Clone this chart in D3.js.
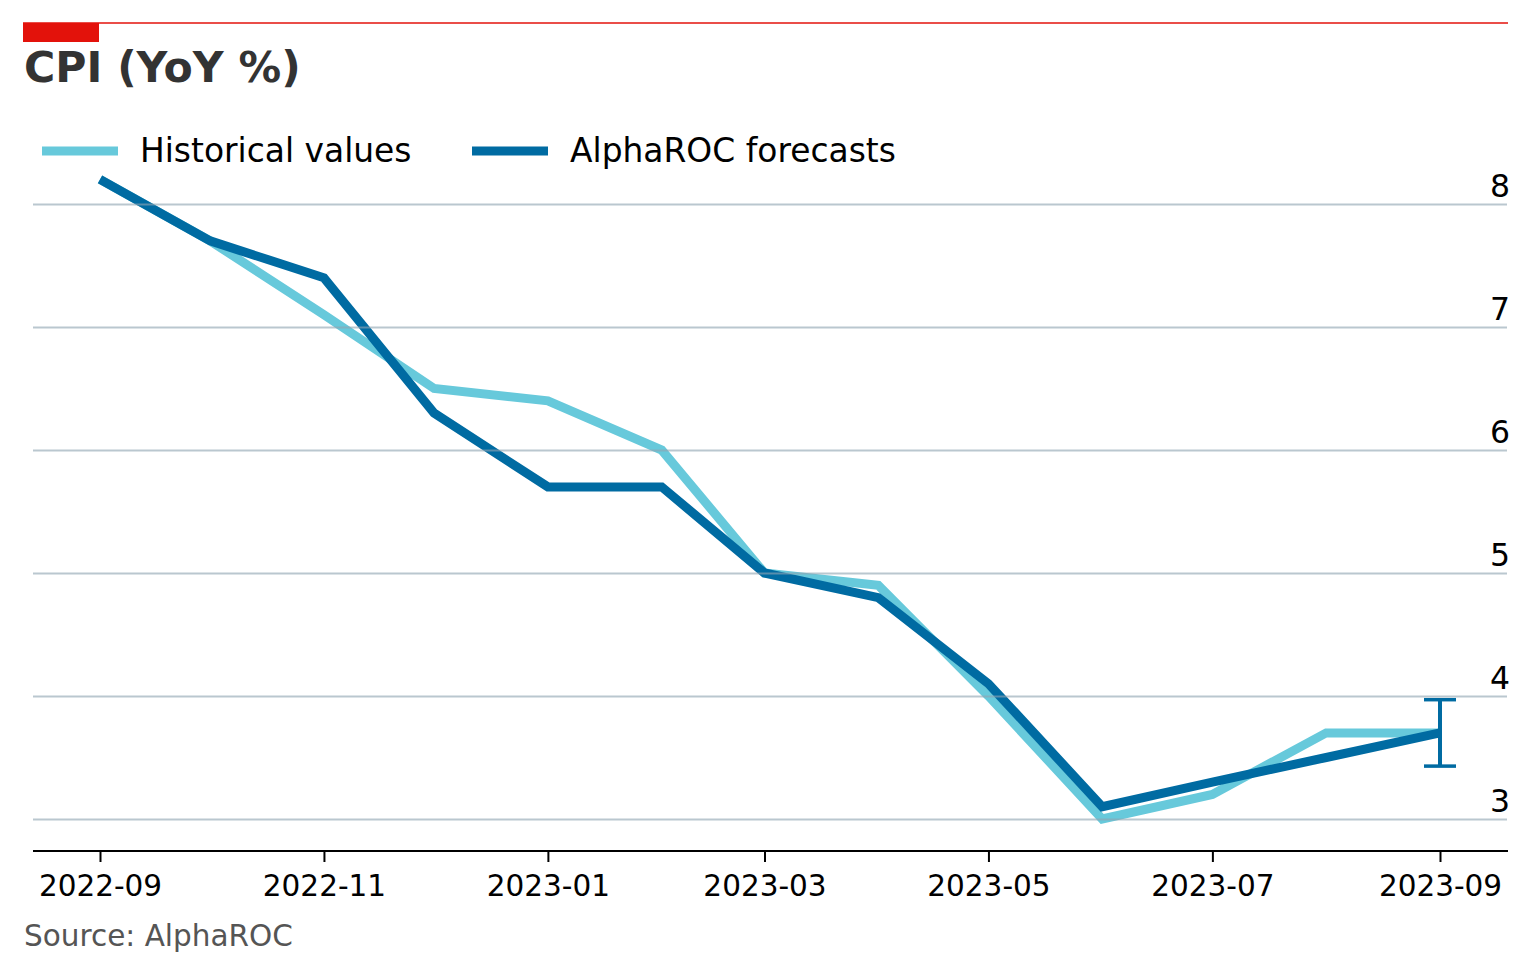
<!DOCTYPE html>
<html>
<head>
<meta charset="utf-8">
<script src="https://cdn.jsdelivr.net/npm/d3@7"></script>
<style>
  html, body { margin: 0; padding: 0; background: #fff; }
  svg { display: block; font-family: "DejaVu Sans", sans-serif; }
</style>
</head>
<body>
<svg id="chart" width="1536" height="976"></svg>
<script>
// ---- data ----
const months = ["2022-09","2022-10","2022-11","2022-12","2023-01","2023-02","2023-03",
                "2023-04","2023-05","2023-06","2023-07","2023-08","2023-09"];
const historical = [8.2, 7.7, 7.1, 6.5, 6.4, 6.0, 5.0, 4.9, 4.0, 3.0, 3.2, 3.7, 3.7];
const forecasts  = [8.2, 7.7, 7.4, 6.3, 5.7, 5.7, 5.0, 4.8, 4.1, 3.1, 3.3, 3.5, 3.7];
const errorMonth = "2023-09";
const errorLow = 3.43;
const errorHigh = 3.97;
const xTickLabels = ["2022-09","2022-11","2023-01","2023-03","2023-05","2023-07","2023-09"];
const yTicks = [3, 4, 5, 6, 7, 8];
const seriesNames = ["Historical values", "AlphaROC forecasts"];
const titleText = "CPI (YoY %)";
const sourceText = "Source: AlphaROC";

// ---- layout ----
const parse = d3.utcParse("%Y-%m");
const fmt = d3.utcFormat("%Y-%m");
const svg = d3.select("#chart");
const colLight = "#67C9DB";
const colDark = "#006BA2";

const x = d3.scaleUtc()
  .domain([parse(months[0]), parse(months[months.length - 1])])
  .range([100, 1440]);
const y = d3.scaleLinear().domain([3, 8]).range([819, 204]);

const plotLeft = 33, plotRight = 1507;

// top red rule & tag
svg.append("line").attr("x1", 23).attr("x2", 1508).attr("y1", 23).attr("y2", 23)
  .attr("stroke", "#E3120B").attr("stroke-width", 1.5);
svg.append("rect").attr("x", 23).attr("y", 23).attr("width", 76).attr("height", 19)
  .attr("fill", "#E3120B");

// title
svg.append("text").attr("x", 24).attr("y", 82)
  .attr("font-size", 42.6).attr("font-weight", "bold").attr("fill", "#333333")
  .text(titleText);

// legend
const legendItems = [
  { name: seriesNames[0], color: colLight, x0: 42 },
  { name: seriesNames[1], color: colDark, x0: 472 }
];
legendItems.forEach(d => {
  svg.append("line").attr("x1", d.x0).attr("x2", d.x0 + 76)
    .attr("y1", 151).attr("y2", 151)
    .attr("stroke", d.color).attr("stroke-width", 9);
  svg.append("text").attr("x", d.x0 + 98).attr("y", 162)
    .attr("font-size", 32.9).attr("fill", "#000").text(d.name);
});

// x axis
svg.append("line").attr("x1", plotLeft).attr("x2", 1508).attr("y1", 851).attr("y2", 851)
  .attr("stroke", "#000").attr("stroke-width", 2);
const xAxis = d3.axisBottom(x).tickValues(xTickLabels.map(parse)).tickFormat(fmt)
  .tickSize(11).tickPadding(13);
const gx = svg.append("g").attr("transform", "translate(0,851)").call(xAxis);
gx.select(".domain").remove();
gx.selectAll(".tick line").attr("stroke", "#000").attr("stroke-width", 2);
gx.selectAll(".tick text")
  .attr("font-size", 29.5).attr("font-family", "DejaVu Sans, sans-serif").attr("fill", "#000")
  .attr("dy", "0.71em");

// lines
const line = d3.line().x(d => x(d.date)).y(d => y(d.value));
const histData = months.map((m, i) => ({ date: parse(m), value: historical[i] }));
const fcData = months.map((m, i) => ({ date: parse(m), value: forecasts[i] }));

svg.append("path").datum(histData).attr("d", line)
  .attr("fill", "none").attr("stroke", colLight).attr("stroke-width", 9);
svg.append("path").datum(fcData).attr("d", line)
  .attr("fill", "none").attr("stroke", colDark).attr("stroke-width", 9);

// error bar
const ex = x(parse(errorMonth));
svg.append("line").attr("x1", ex).attr("x2", ex).attr("y1", y(errorLow)).attr("y2", y(errorHigh))
  .attr("stroke", colDark).attr("stroke-width", 4);
[errorLow, errorHigh].forEach(v => {
  svg.append("line").attr("x1", ex - 16).attr("x2", ex + 16).attr("y1", y(v)).attr("y2", y(v))
    .attr("stroke", colDark).attr("stroke-width", 3.5);
});

// y grid + labels (right side), drawn over the lines, semi-transparent
const yAxis = d3.axisLeft(y).tickValues(yTicks).tickSize(plotRight - plotLeft).tickFormat(d3.format("d"));
const gy = svg.append("g").attr("transform", `translate(${plotRight},0)`).call(yAxis);
gy.select(".domain").remove();
gy.selectAll(".tick line").attr("stroke", "#8FA5B2").attr("stroke-opacity", 0.62).attr("stroke-width", 2);
gy.selectAll(".tick text")
  .attr("x", 3).attr("y", -8).attr("dy", 0)
  .attr("text-anchor", "end")
  .attr("font-size", 31.5).attr("font-family", "DejaVu Sans, sans-serif").attr("fill", "#000");

// source
svg.append("text").attr("x", 24).attr("y", 946)
  .attr("font-size", 29.5).attr("fill", "#555555").text(sourceText);
</script>
</body>
</html>
